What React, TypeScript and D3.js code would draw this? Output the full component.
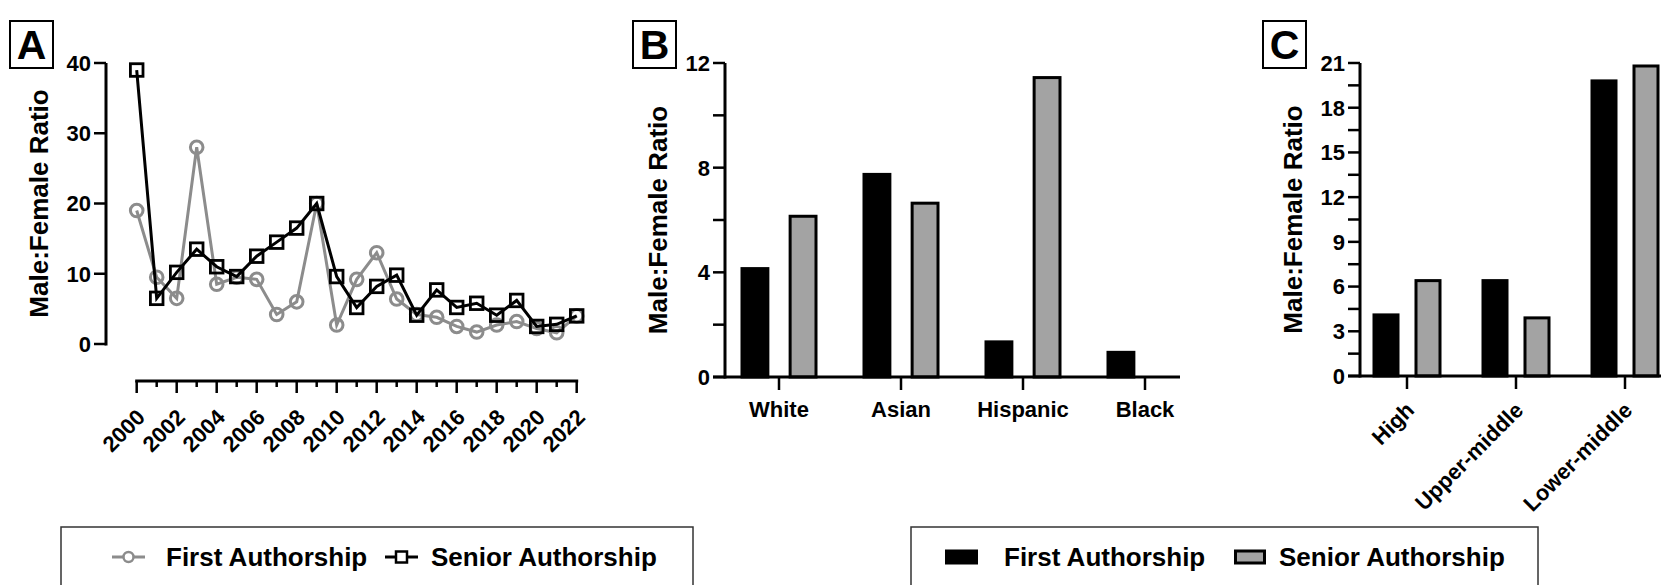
import React from 'react';
import * as d3 from 'd3';

const years = [2000, 2001, 2002, 2003, 2004, 2005, 2006, 2007, 2008, 2009, 2010, 2011, 2012, 2013, 2014, 2015, 2016, 2017, 2018, 2019, 2020, 2021, 2022];
const firstAuthorshipA = [19, 9.5, 6.5, 28, 8.5, 9.5, 9.2, 4.2, 6, 20, 2.7, 9.2, 13, 6.4, 4.2, 3.8, 2.5, 1.7, 2.7, 3.2, 2.2, 1.6, 4];
const seniorAuthorshipA = [39, 6.5, 10.2, 13.5, 11, 9.6, 12.5, 14.5, 16.5, 20, 9.6, 5.2, 8.2, 9.8, 4.1, 7.7, 5.2, 5.8, 4.1, 6.2, 2.5, 2.8, 4];
const yTicksA = [0, 10, 20, 30, 40];
const xLabelYearsA = [2000, 2002, 2004, 2006, 2008, 2010, 2012, 2014, 2016, 2018, 2020, 2022];

const categoriesB = ['White', 'Asian', 'Hispanic', 'Black'];
const firstB = [4.2, 7.8, 1.4, 1.0];
const seniorB = [6.2, 6.7, 11.5, 0];
const yTicksB = [0, 2, 4, 6, 8, 10, 12];
const yLabelsB = [0, 4, 8, 12];

const categoriesC = ['High', 'Upper-middle', 'Lower-middle'];
const firstC = [4.2, 6.5, 19.9];
const seniorC = [6.5, 4.0, 20.9];
const yTicksC = [0, 1.5, 3, 4.5, 6, 7.5, 9, 10.5, 12, 13.5, 15, 16.5, 18, 19.5, 21];
const yLabelsC = [0, 3, 6, 9, 12, 15, 18, 21];

const seriesNames = ['First Authorship', 'Senior Authorship'];

const FONT = "'Liberation Sans', Arial, sans-serif";
const GRAY_LINE = '#8c8c8c';
const GRAY_BAR = '#a3a3a3';
const AX = 3;
const TICK_FS = 22;
const TITLE_FS = 26;
const LEGEND_FS = 26;

function PanelLetter({ x, y, letter }: { x: number; y: number; letter: string }) {
  return (
    <g>
      <rect x={x} y={y} width={43} height={47} fill="#fff" stroke="#000" strokeWidth={2} />
      <text x={x + 21.5} y={y + 38} textAnchor="middle" fontSize={41} fontWeight="bold" fontFamily={FONT}>{letter}</text>
    </g>
  );
}

function YAxis({ scale, ticks, labels, x, titleX }: { scale: d3.ScaleLinear<number, number>; ticks: number[]; labels: number[]; x: number; titleX: number }) {
  const [y0, y1] = scale.range();
  return (
    <g>
      <line x1={x} x2={x} y1={y0 + AX / 2} y2={y1} stroke="#000" strokeWidth={AX} />
      {ticks.map((t) => (
        <line key={t} x1={x - 12} x2={x} y1={scale(t)} y2={scale(t)} stroke="#000" strokeWidth={2.5} />
      ))}
      {labels.map((t) => (
        <text key={t} x={x - 15} y={scale(t)} dy="0.36em" textAnchor="end" fontSize={TICK_FS} fontWeight="bold" fontFamily={FONT}>{t}</text>
      ))}
      <text transform={`translate(${titleX},${(y0 + y1) / 2}) rotate(-90)`} dy="0.36em" textAnchor="middle" fontSize={TITLE_FS} fontWeight="bold" fontFamily={FONT}>Male:Female Ratio</text>
    </g>
  );
}

function PanelA() {
  const x = d3.scaleLinear().domain([2000, 2022]).range([136.7, 576.7]);
  const y = d3.scaleLinear().domain([0, 40]).range([344, 63]);
  const axisY = 381;
  const line = d3.line<number>().x((_, i) => x(years[i])).y((d) => y(d));
  return (
    <g>
      <PanelLetter x={10} y={21} letter="A" />
      <YAxis scale={y} ticks={yTicksA} labels={yTicksA} x={106} titleX={39} />
      <line x1={x(2000) - AX / 2} x2={x(2022) + AX / 2} y1={axisY} y2={axisY} stroke="#000" strokeWidth={AX} />
      {years.map((yr) => (
        <line key={yr} x1={x(yr)} x2={x(yr)} y1={axisY} y2={axisY + (yr % 2 === 0 ? 12 : 6)} stroke="#000" strokeWidth={2.5} />
      ))}
      {xLabelYearsA.map((yr) => (
        <text key={yr} transform={`translate(${x(yr) + 4},${axisY + 32}) rotate(-45)`} dy="0.36em" textAnchor="end" fontSize={TICK_FS} fontWeight="bold" fontFamily={FONT}>{yr}</text>
      ))}
      <path d={line(firstAuthorshipA) || ''} fill="none" stroke={GRAY_LINE} strokeWidth={3} />
      {firstAuthorshipA.map((v, i) => (
        <circle key={i} cx={x(years[i])} cy={y(v)} r={6.3} fill="none" stroke={GRAY_LINE} strokeWidth={3} />
      ))}
      <path d={line(seniorAuthorshipA) || ''} fill="none" stroke="#000" strokeWidth={3} />
      {seniorAuthorshipA.map((v, i) => (
        <rect key={i} x={x(years[i]) - 6.3} y={y(v) - 6.3} width={12.6} height={12.6} fill="none" stroke="#000" strokeWidth={2.8} />
      ))}
    </g>
  );
}

function BarPanel({ cats, first, senior, yMax, yTicks, yLabels, yTop, yBottom, axisX, centers, axisEnd, barSpan, padInner, titleX, letterX, letter, rotated }: any) {
  const y = d3.scaleLinear().domain([0, yMax]).range([yBottom, yTop]);
  const x0 = d3.scalePoint<string>().domain(cats).range(centers);
  const x1 = d3.scaleBand<string>().domain(seriesNames).range([-barSpan / 2, barSpan / 2]).paddingInner(padInner);
  const bw = x1.bandwidth();
  return (
    <g>
      <PanelLetter x={letterX} y={21} letter={letter} />
      {cats.map((c: string, i: number) => (
        <g key={c}>
          {first[i] > 0 && (
            <rect x={(x0(c) as number) + (x1(seriesNames[0]) as number) + 1.5} y={y(first[i]) + 1.5} width={bw - 3} height={Math.max(0, y(0) - y(first[i]) - 1.5)} fill="#000" stroke="#000" strokeWidth={3} />
          )}
          {senior[i] > 0 && (
            <rect x={(x0(c) as number) + (x1(seriesNames[1]) as number) + 1.5} y={y(senior[i]) + 1.5} width={bw - 3} height={Math.max(0, y(0) - y(senior[i]) - 1.5)} fill={GRAY_BAR} stroke="#000" strokeWidth={3} />
          )}
        </g>
      ))}
      <YAxis scale={y} ticks={yTicks} labels={yLabels} x={axisX} titleX={titleX} />
      <line x1={axisX - 12} x2={axisEnd} y1={yBottom} y2={yBottom} stroke="#000" strokeWidth={AX} />
      {cats.map((c: string) => (
        <line key={c} x1={x0(c)} x2={x0(c)} y1={yBottom} y2={yBottom + 13} stroke="#000" strokeWidth={2.5} />
      ))}
      {cats.map((c: string) =>
        rotated ? (
          <text key={c} transform={`translate(${(x0(c) as number) + 3},${yBottom + 30}) rotate(-45)`} dy="0.36em" textAnchor="end" fontSize={TICK_FS} fontWeight="bold" fontFamily={FONT}>{c}</text>
        ) : (
          <text key={c} x={x0(c)} y={yBottom + 32} dy="0.36em" textAnchor="middle" fontSize={TICK_FS} fontWeight="bold" fontFamily={FONT}>{c}</text>
        )
      )}
    </g>
  );
}

function LegendA() {
  const ly = 557;
  return (
    <g>
      <rect x={61} y={527} width={632} height={80} fill="none" stroke="#333" strokeWidth={1.5} />
      <line x1={112} x2={145} y1={ly} y2={ly} stroke={GRAY_LINE} strokeWidth={3} />
      <circle cx={128.5} cy={ly} r={5} fill="#fff" stroke={GRAY_LINE} strokeWidth={2.5} />
      <text x={166} y={ly} dy="0.36em" fontSize={LEGEND_FS} fontWeight="bold" fontFamily={FONT}>{seriesNames[0]}</text>
      <line x1={385} x2={418} y1={ly} y2={ly} stroke="#000" strokeWidth={3} />
      <rect x={396} y={ly - 5.5} width={11} height={11} fill="#fff" stroke="#000" strokeWidth={2.5} />
      <text x={431} y={ly} dy="0.36em" fontSize={LEGEND_FS} fontWeight="bold" fontFamily={FONT}>{seriesNames[1]}</text>
    </g>
  );
}

function LegendB() {
  const ly = 557;
  return (
    <g>
      <rect x={911} y={527} width={627} height={80} fill="none" stroke="#333" strokeWidth={1.5} />
      <rect x={945} y={ly - 7.5} width={33} height={15} fill="#000" />
      <text x={1004} y={ly} dy="0.36em" fontSize={LEGEND_FS} fontWeight="bold" fontFamily={FONT}>{seriesNames[0]}</text>
      <rect x={1235.5} y={ly - 6} width={29} height={12} fill={GRAY_BAR} stroke="#000" strokeWidth={3} />
      <text x={1279} y={ly} dy="0.36em" fontSize={LEGEND_FS} fontWeight="bold" fontFamily={FONT}>{seriesNames[1]}</text>
    </g>
  );
}

export default function App() {
  return (
    <svg width={1675} height={585} style={{ position: 'absolute', left: 0, top: 0, background: '#fff' }}>
      <rect width={1675} height={585} fill="#fff" />
      <PanelA />
      <BarPanel cats={categoriesB} first={firstB} senior={seniorB} yMax={12} yTicks={yTicksB} yLabels={yLabelsB}
        yTop={63} yBottom={377} axisX={725} centers={[779, 1145]} axisEnd={1180} barSpan={77} padInner={0.4}
        titleX={658} letterX={633} letter="B" rotated={false} />
      <BarPanel cats={categoriesC} first={firstC} senior={seniorC} yMax={21} yTicks={yTicksC} yLabels={yLabelsC}
        yTop={63} yBottom={376} axisX={1360} centers={[1407, 1625]} axisEnd={1661} barSpan={69} padInner={0.357}
        titleX={1293} letterX={1263} letter="C" rotated={true} />
      <LegendA />
      <LegendB />
    </svg>
  );
}
